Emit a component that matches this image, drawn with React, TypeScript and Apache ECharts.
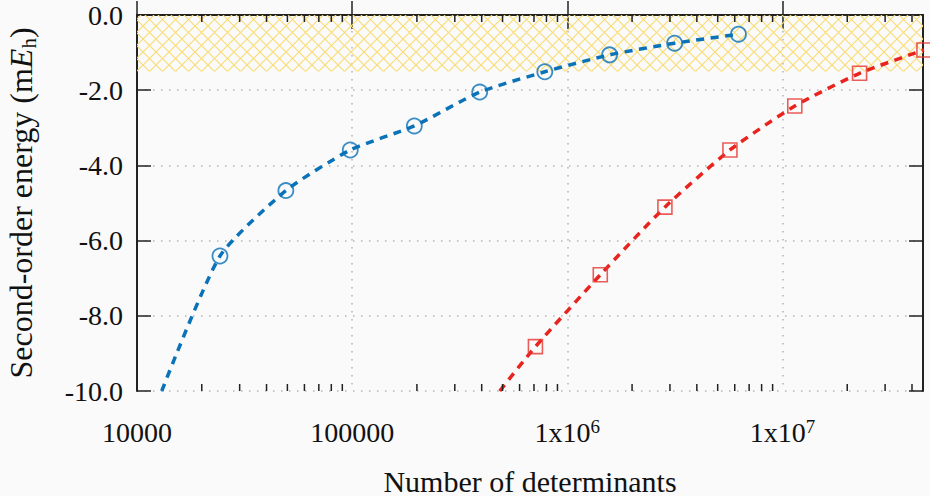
import React, { useEffect, useRef } from "react";
import * as echarts from "echarts";

// ---- data ----
const X_MIN = 10000;
const X_MAX = 45000000;
const Y_MIN = -10;
const Y_MAX = 0;
const Y_STEP = 2;

const xTickValues = [10000, 100000, 1000000, 10000000];
const xTickLabels = ["10000", "100000", "1x10{sup|6}", "1x10{sup|7}"];
const minorMultipliers = [2, 3, 4, 5, 6, 7, 8, 9];

// blue circles
const blueX = [24300, 49200, 98000, 194500, 391700, 786000, 1572000, 3153000, 6243000];
const blueY = [-6.41, -4.67, -3.59, -2.95, -2.05, -1.51, -1.06, -0.75, -0.51];
// where the blue dashed fit curve leaves the bottom of the plot
const blueCurveStart = [13030, -10];

// red squares
const redX = [711000, 1423000, 2842000, 5700000, 11410000, 22820000, 45450000];
const redY = [-8.82, -6.91, -5.11, -3.59, -2.42, -1.55, -0.93];
const redCurveStart = [485000, -10];

// hatched band
const bandTop = 0;
const bandBottom = -1.5;

const BLUE = "#0a72b8";
const RED = "#e8241f";
const AXIS = "#222222";
const FONT = "Liberation Serif";

function hatchPattern() {
  const s = 13;
  const svg =
    `<svg xmlns='http://www.w3.org/2000/svg' width='${s}' height='${s}'>` +
    `<g stroke='#f8dc76' stroke-width='1.2' fill='none'>` +
    `<path d='M-3,-3 L16,16 M-3,10 L3,16 M10,-3 L16,3'/>` +
    `<path d='M-3,16 L16,-3 M-3,3 L3,-3 M10,16 L16,10'/>` +
    `</g></svg>`;
  return {
    image: "data:image/svg+xml;charset=utf-8," + encodeURIComponent(svg),
    repeat: "repeat",
    imageWidth: s,
    imageHeight: s,
  };
}

export default function App() {
  const ref = useRef<HTMLDivElement>(null);

  useEffect(() => {
    if (!ref.current) return;
    const chart = echarts.init(ref.current, undefined, { renderer: "svg" });

    const bluePts = blueX.map((x, i) => [x, blueY[i]]);
    const redPts = redX.map((x, i) => [x, redY[i]]);

    const xLabel = (v: number) => {
      const i = xTickValues.findIndex((t) => Math.abs(t - v) / t < 1e-6);
      return i >= 0 ? xTickLabels[i] : "";
    };

    const commonX = {
      type: "log",
      logBase: 10,
      min: X_MIN,
      max: X_MAX,
      axisLine: { show: true, lineStyle: { color: AXIS, width: 2 } },
      axisTick: { show: true, inside: true, length: 14, lineStyle: { color: AXIS, width: 1.5 } },
      minorTick: { show: false },
    };
    const commonY = {
      type: "value",
      min: Y_MIN,
      max: Y_MAX,
      interval: Y_STEP,
      axisLine: { show: true, lineStyle: { color: AXIS, width: 2 } },
      axisTick: { show: true, inside: true, length: 14, lineStyle: { color: AXIS, width: 1.5 } },
    };

    chart.setOption({
      animation: false,
      backgroundColor: "#fafafa",
      grid: {
        left: 137,
        top: 15,
        right: 7,
        bottom: 105,
        containLabel: false,
        outerBoundsMode: "none",
      },
      xAxis: [
        {
          ...commonX,
          position: "bottom",
          name: "Number of determinants",
          nameLocation: "middle",
          nameGap: 77,
          nameTextStyle: { fontFamily: FONT, fontSize: 30, color: "#111", lineHeight: 26 },
          axisLabel: {
            show: true,
            showMaxLabel: false,
            margin: 26,
            fontFamily: FONT,
            fontSize: 28,
            lineHeight: 30,
            color: "#111",
            formatter: xLabel,
            rich: {
              sup: { fontFamily: FONT, fontSize: 19, lineHeight: 18, verticalAlign: "top", color: "#111" },
            },
          },
          splitLine: { show: true, lineStyle: { color: "#b5b5b5", width: 1.5, type: [1.5, 6.5] } },
        },
        {
          ...commonX,
          position: "top",
          axisLabel: { show: false },
          splitLine: { show: false },
        },
      ],
      yAxis: [
        {
          ...commonY,
          position: "left",
          name: "Second-order energy (m{it|E}{sub|h})",
          nameLocation: "middle",
          nameRotate: 90,
          nameGap: 98,
          nameTextStyle: {
            fontFamily: FONT,
            fontSize: 32,
            lineHeight: 36,
            color: "#111",
            rich: {
              it: { fontFamily: FONT, fontSize: 32, fontStyle: "italic", color: "#111", lineHeight: 36 },
              sub: { fontFamily: FONT, fontSize: 21, lineHeight: 20, verticalAlign: "bottom", color: "#111" },
            },
          },
          axisLabel: {
            show: true,
            margin: 14,
            fontFamily: FONT,
            fontSize: 28,
            color: "#111",
            formatter: (v: number) => v.toFixed(1),
          },
          splitLine: { show: true, lineStyle: { color: "#b5b5b5", width: 1.5, type: [1.5, 6.5] } },
        },
        {
          ...commonY,
          position: "right",
          axisLabel: { show: false },
          splitLine: { show: false },
        },
      ],
      series: [
        {
          type: "line",
          name: "blue fit",
          xAxisIndex: 0,
          yAxisIndex: 0,
          data: [blueCurveStart, ...bluePts],
          showSymbol: false,
          symbol: "none",
          smooth: 0.2,
          lineStyle: { color: BLUE, width: 3.5, type: [8, 6.5], cap: "butt" },
          z: 3,
          markArea: {
            silent: true,
            itemStyle: { color: hatchPattern() as any, borderWidth: 0 },
            data: [[{ yAxis: bandTop }, { yAxis: bandBottom }]],
          },
        },
        {
          type: "line",
          name: "red fit",
          xAxisIndex: 0,
          yAxisIndex: 0,
          data: [redCurveStart, ...redPts],
          showSymbol: false,
          symbol: "none",
          smooth: 0.2,
          lineStyle: { color: RED, width: 3.5, type: [8, 6.5], cap: "butt" },
          z: 3,
        },
        {
          type: "scatter",
          name: "blue",
          data: bluePts,
          symbol: "circle",
          symbolSize: 15,
          clip: false,
          itemStyle: { color: "rgba(0,0,0,0)", borderColor: BLUE, borderWidth: 1.8 },
          z: 4,
        },
        {
          type: "scatter",
          name: "red",
          data: redPts,
          symbol: "rect",
          symbolSize: 14,
          clip: false,
          itemStyle: { color: "rgba(0,0,0,0)", borderColor: "#e6352f", borderWidth: 1.6 },
          z: 4,
        },
      ],
    });

    // minor log ticks on bottom and top axes, positioned via the axis scale
    const yB = chart.convertToPixel({ yAxisIndex: 0 }, Y_MIN) as number;
    const yT = chart.convertToPixel({ yAxisIndex: 0 }, Y_MAX) as number;
    const minor: any[] = [];
    for (let e = 4; e <= 7; e++) {
      for (const m of minorMultipliers) {
        const v = m * Math.pow(10, e);
        if (v >= X_MAX) continue;
        const x = chart.convertToPixel({ xAxisIndex: 0 }, v) as number;
        minor.push({
          type: "line",
          shape: { x1: x, y1: yB, x2: x, y2: yB - 7 },
          style: { stroke: AXIS, lineWidth: 1.5 },
          z: 10,
        });
        minor.push({
          type: "line",
          shape: { x1: x, y1: yT, x2: x, y2: yT + 7 },
          style: { stroke: AXIS, lineWidth: 1.5 },
          z: 10,
        });
      }
    }
    chart.setOption({ graphic: minor });

    return () => chart.dispose();
  }, []);

  return (
    <div
      ref={ref}
      style={{ position: "fixed", left: 0, top: 0, width: 930, height: 496, background: "#fafafa" }}
    />
  );
}
